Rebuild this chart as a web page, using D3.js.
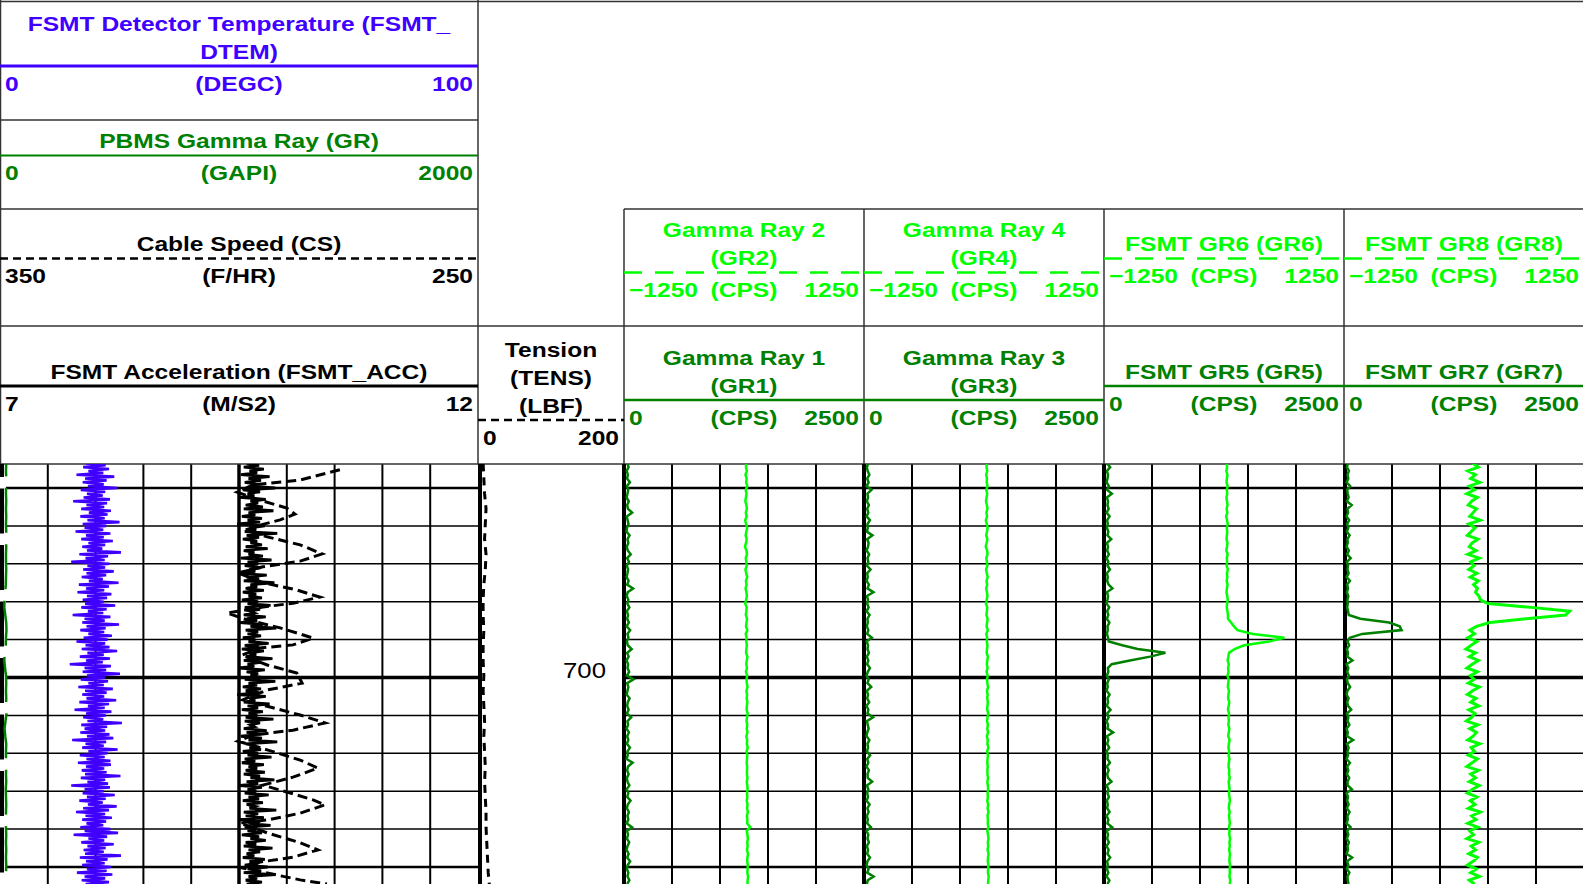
<!DOCTYPE html>
<html>
<head>
<meta charset="utf-8">
<script src="https://cdn.jsdelivr.net/npm/d3@7"></script>
<style>
    body { margin: 0; background: #fff; overflow: hidden; }
    svg { display: block; }
    text { font-family: "Liberation Sans", Arial, sans-serif; }
    .hdr text { font-size: 21px; font-weight: bold; }
</style>
</head>
<body>
<div id="logplot"></div>
<script>

const depthTop = 643.5;      // depth of the first sample of every sampled series (ft)
const depthLabels = [700];

// FSMT detector temperature (DEGC), every 0.5 ft
const dtemStep = 0.5;
const dtem = [
    18.0,22.1,17.4,22.8,18.5,21.6,16.0,23.9,17.8,22.3, 17.3,21.7,18.4,24.6,16.9,22.0,18.2,21.5,17.5,23.0,
    15.3,22.4,18.1,21.8,17.0,23.2,18.6,22.5,16.8,21.9, 18.3,25.0,17.3,22.2,17.7,21.6,15.8,23.1,18.0,21.7,
    17.0,23.6,18.5,22.0,17.2,21.4,18.2,25.3,16.6,22.6, 17.9,21.9,14.9,22.9,18.3,22.0,17.4,23.8,18.1,22.2,
    17.1,21.5,18.6,24.8,16.5,22.8,18.0,21.8,16.2,23.3, 18.2,22.4,17.3,21.7,17.8,24.1,17.0,22.3,18.4,21.6,
    15.2,23.1,17.7,21.9,17.2,24.9,18.1,22.1,16.8,21.8, 18.5,23.4,17.5,22.5,16.0,22.0,17.9,22.9,17.1,24.5,
    18.3,21.7,16.7,23.0,18.0,21.5,14.6,23.2,17.7,22.2, 17.3,25.1,18.2,22.0,16.9,22.6,18.5,21.7,16.4,23.6,
    17.8,22.3,17.2,21.8,18.1,24.3,16.6,22.8,18.4,21.9, 15.6,23.3,18.0,22.1,17.4,21.6,18.3,25.5,17.0,22.4,
    17.7,22.0,16.8,22.9,18.2,23.7,15.1,22.2,17.9,21.7, 17.2,24.6,18.5,22.5,16.7,21.9,18.1,23.1,16.3,23.2,
    18.0,21.8,17.1,22.3,17.8,25.2,16.9,22.0,18.3,22.6, 14.9,23.0,17.7,21.7,17.3,24.0,18.2,22.1,16.6,21.5,
    18.4,24.4,17.4,22.8,15.9,22.0,17.9,23.4,17.2,22.2, 18.1,21.6,16.8,23.1,17.7,24.7,15.4,22.4,18.5,21.8,
    17.0,23.8,18.3,22.1,17.5,21.7,17.8,25.3,16.7,22.5, 18.0,21.9,17.2,23.2,18.2,22.3,16.1,23.5,17.7,22.0,
    17.1,22.8,17.9
];

// FSMT acceleration (M/S2), every 0.5 ft
const accStep = 0.5;
const acc = [
    9.58,9.71,9.55,9.76,9.61,9.69,9.52,9.82,9.60,9.73, 9.56,9.68,9.63,9.88,9.54,9.72,9.59,9.66,9.50,9.78,
    9.62,9.70,9.57,9.75,9.55,9.86,9.60,9.67,9.53,9.74, 9.59,9.72,9.48,9.77,9.61,9.68,9.56,9.90,9.58,9.71,
    9.54,9.69,9.62,9.74,9.57,9.80,9.55,9.66,9.60,9.75, 9.52,9.84,9.59,9.70,9.56,9.73,9.61,9.67,9.49,9.79,
    9.58,9.71,9.55,9.87,9.62,9.69,9.57,9.76,9.54,9.68, 9.60,9.74,9.53,9.70,9.59,9.83,9.56,9.72,9.61,9.66,
    9.55,9.78,9.58,9.69,9.51,9.75,9.62,9.89,9.57,9.70, 9.59,9.73,9.54,9.67,9.60,9.81,9.56,9.71,9.53,9.76,
    9.61,9.68,9.57,9.85,9.55,9.72,9.59,9.66,9.50,9.77, 9.58,9.70,9.62,9.74,9.56,9.88,9.60,9.69,9.54,9.73,
    9.57,9.71,9.48,9.78,9.61,9.67,9.55,9.82,9.59,9.70, 9.53,9.75,9.60,9.69,9.57,9.86,9.56,9.72,9.62,9.66,
    9.55,9.79,9.58,9.71,9.52,9.74,9.60,9.90,9.57,9.68, 9.61,9.73,9.54,9.70,9.59,9.84,9.56,9.67,9.53,9.76,
    9.60,9.69,9.57,9.77,9.55,9.72,9.62,9.87,9.58,9.70, 9.51,9.74,9.59,9.68,9.56,9.81,9.60,9.71,9.54,9.75,
    9.58,9.67,9.61,9.89,9.55,9.70,9.57,9.76,9.49,9.72, 9.60,9.83,9.56,9.69,9.59,9.74,9.53,9.71,9.62,9.78,
    9.57,9.68,9.55,9.85,9.60,9.72,9.58,9.66,9.54,9.77, 9.61,9.70,9.56,9.80,9.59,9.73,9.55,9.88,9.60,9.69,
    9.57,9.74,9.58
];

// PBMS gamma ray (GAPI), every 2 ft
const grStep = 2;
const pbmsGr = [
    26,25,26,25,25,26,25,26,25,26, 25,26,25,25,26,25,24,22,19,18,
    22,26,27,25,24,20,18,21,25,26, 25,26,25,27,23,19,22,26,25,25,
    26,25,26,24,25,26,25,26,25,26, 25,26,25,26,25,26
];

// tension (LBF), every 4 ft
const tensStep = 4;
const tens = [7,8,9,11,10,9,11,10,8,7, 7,8,7,7,8,7,8,9,8,9, 10,9,10,11,11,12,13,14,16];

// cable speed (F/HR) turning points
const csDepth = [
    645.2,647.9,649.2,651.1,653.2,655.3,656.9,658.4,659.8,661.1, 662.9,665.0,667.4,669.3,670.8,672.4,675.0,676.9,678.8,680.4,
    681.4,683.0,684.8,686.9,689.6,691.4,692.2,694.1,696.7,698.8, 701.5,703.3,705.9,708.0,709.9,712.0,713.9,715.2,716.8,719.1,
    721.8,723.9,726.3,728.4,730.2,732.3,733.6,735.8,737.6,738.4, 741.0,743.6,745.5,747.4,748.7,750.3,751.6,753.4,754.5
];
const csSpeed = [
    278.9,287.2,297.1,300.4,295.6,290.0,288.3,291.4,295.6,298.7, 294.1,287.2,282.6,287.2,295.0,300.2,295.0,287.9,283.1,288.7,
    295.0,302.5,298.3,291.4,284.5,288.7,295.6,299.4,294.1,287.9, 286.8,294.1,299.2,292.9,287.2,282.0,288.7,297.1,300.2,294.1,
    287.2,283.5,288.7,295.0,290.0,284.5,282.0,287.2,294.1,299.8, 294.1,287.2,283.5,288.7,295.6,299.2,294.1,287.2,281.6
];

// gamma ray channels (CPS), every 1 ft
const gammaStep = 1;
const gr1 = [
    35,48,28,40,32,62,30,44,36,27, 50,33,41,85,29,38,47,31,26,58, 36,45,29,39,70,33,52,30,42,36,
    27,48,33,95,38,29,45,35,56,30, 42,33,51,27,64,36,46,30,39,80, 33,48,27,42,36,54,30,100,33,45,
    36,27,58,39,33,48,30,75,36,42, 27,51,33,45,30,62,36,39,27,90, 42,33,48,30,36,56,27,45,33,68,
    39,30,51,36,45,27,84,33,42,30, 54,36,27,48,33,64,39,30,45,36, 56,33
];
const gr2 = [
    25,20,30,15,28,22,35,18,26,20, 14,24,30,19,27,12,22,33,25,17, 28,21,10,26,31,18,24,29,15,23,
    34,20,27,16,25,30,22,13,28,24, 19,32,26,21,35,18,27,23,30,25, 22,36,28,24,31,20,33,26,29,37,
    25,32,28,35,30,27,38,31,26,34, 29,36,24,33,30,39,27,35,31,28, 33,31,30,36,29,34,38,31,35,28,
    37,32,40,30,35,33,65,29,36,41, 34,38,31,42,36,33,40,37,35,43, 38,36
];
const gr3 = [
    44,30,38,56,33,48,27,78,36,42, 30,51,33,45,27,62,36,39,30,88, 33,48,42,27,54,36,45,30,68,33,
    39,27,51,36,98,30,42,33,48,27, 58,36,39,30,45,33,82,27,42,36, 51,30,45,33,62,39,27,48,36,75,
    30,42,33,54,27,45,36,95,30,39, 48,33,27,56,36,42,30,64,33,45, 27,51,36,39,85,30,45,33,42,27,
    58,36,48,30,39,33,72,27,45,36, 51,30,42,33,62,36,27,48,33,100, 39,30
];
const gr4 = [
    30,26,34,22,31,28,37,24,33,27, 21,30,36,25,32,19,29,38,31,23, 35,27,18,33,37,24,30,35,22,29,
    39,26,33,23,31,36,28,20,34,30, 25,38,32,27,40,24,33,29,36,31, 28,41,34,30,37,26,39,32,35,43,
    31,38,34,40,36,33,44,37,32,40, 35,42,30,39,36,45,33,41,37,34, 39,35,36,42,35,40,44,37,41,34,
    43,38,46,36,41,39,45,35,42,47, 40,44,37,48,42,39,46,43,41,49, 44,42
];
const gr5 = [
    33,64,30,42,36,27,51,33,82,30, 42,36,48,27,58,33,39,30,45,36, 75,30,42,33,51,27,45,36,62,30,
    39,33,48,88,30,42,36,27,54,33, 45,30,56,36,39,30,42,50,190,350, 640,480,270,80,40,45,30,51,33,39,
    27,58,36,42,30,68,33,48,27,42, 36,95,30,45,33,54,27,39,36,62, 30,48,33,42,78,27,45,36,51,30,
    39,33,58,27,45,36,85,30,42,33, 51,27,48,36,64,33,39,30,45,27, 56,36
];
const gr6 = [
    28,33,24,36,30,26,38,29,34,25, 31,37,27,35,22,32,39,28,34,30, 26,36,31,24,38,29,33,27,40,31,
    35,28,37,30,26,34,39,32,29,36, 41,42,73,104,140,300,630,470,210,110, 52,45,38,50,42,47,36,49,44,40,
    52,46,43,55,48,41,53,47,50,45, 56,49,44,58,51,46,54,48,57,50, 47,55,52,60,49,53,58,51,56,62,
    54,50,59,53,57,61,52,58,55,63, 57,60,54,62,58,56,64,59,61,57, 65,60
];
const gr7 = [
    42,30,51,36,45,27,64,33,39,48, 30,80,36,42,27,54,33,45,30,58, 36,39,27,51,33,70,30,42,36,48,
    27,62,33,42,30,45,36,39,33,42, 50,170,470,580,600,190,60,36,54,30, 42,36,88,27,45,33,51,30,39,64,
    36,27,48,33,42,75,30,45,36,56, 27,39,33,95,30,48,36,42,27,62, 33,45,30,54,36,39,82,27,42,33,
    48,30,58,36,39,27,68,33,45,30, 51,36,42,27,85,33,45,30,56,36, 39,48
];
const gr8 = [
    90,150,40,120,70,165,55,110,30,140, 80,45,130,95,60,170,50,115,75,35, 145,85,55,125,40,160,70,105,50,135,
    65,150,100,140,120,155,170,250,700,1100, 1060,650,270,130,60,110,40,135,75,20, 120,55,150,85,30,140,65,105,45,160,
    90,35,125,70,155,50,115,80,25,145, 60,130,95,40,165,75,110,45,140,85, 30,150,70,120,55,160,90,35,135,65,
    115,45,170,80,125,40,145,60,100,30, 155,75,120,50,140,95,35,130,70,160, 55,110
];


class LogVis {

    constructor(parentElement) {
        this.parentElement = parentElement;

        this.initVis()
    }

    initVis() {
        let vis = this

        vis.width = 1583;
        vis.height = 884;
        vis.dataTop = 464;
        vis.stretch = 1.17;   // header lettering is drawn wide

        vis.svg = d3.select("#" + vis.parentElement).append("svg")
            .attr("width", vis.width)
            .attr("height", vis.height);

        // depth scale: 3.79 px per foot, 700 ft on y = 677.5
        vis.y = d3.scaleLinear()
            .domain([643.67, 754.49])
            .range([vis.dataTop, vis.height]);

        // track columns
        vis.main = [0, 478];
        vis.depthTrack = [478, 624];
        vis.grTracks = [[624, 864], [864, 1104], [1104, 1344], [1344, 1584]];

        vis.svg.append("clipPath").attr("id", "dataClip")
            .append("rect")
            .attr("x", 0).attr("y", vis.dataTop)
            .attr("width", vis.width).attr("height", vis.height - vis.dataTop);

        vis.wrangleData()
    }

    wrangleData() {
        let vis = this

        const sampled = (values, step) => values.map((v, i) => ({depth: depthTop + i * step, value: v}));

        const lime = "#00ff00", dark = "#008000", blue = "#4000ff";
        const g = vis.grTracks;

        vis.curves = [
            {data: sampled(dtem, dtemStep), track: vis.main, domain: [0, 100], color: blue, width: 2.6},
            {data: sampled(pbmsGr, grStep), track: vis.main, domain: [0, 2000], color: dark, width: 2.5, dash: "45,11.5", offset: 32},
            {data: csDepth.map((d, i) => ({depth: d, value: csSpeed[i]})), track: vis.main, domain: [350, 250], color: "#000", width: 3, dash: "10,5"},
            {data: sampled(acc, accStep), track: vis.main, domain: [7, 12], color: "#000", width: 2.8},
            {data: sampled(tens, tensStep), track: vis.depthTrack, domain: [0, 200], color: "#000", width: 3, dash: "8,6"},
            {data: sampled(gr1, gammaStep), track: g[0], domain: [0, 2500], color: dark, width: 2.5},
            {data: sampled(gr2, gammaStep), track: g[0], domain: [-1250, 1250], color: lime, width: 2.5},
            {data: sampled(gr3, gammaStep), track: g[1], domain: [0, 2500], color: dark, width: 2.5},
            {data: sampled(gr4, gammaStep), track: g[1], domain: [-1250, 1250], color: lime, width: 2.5},
            {data: sampled(gr5, gammaStep), track: g[2], domain: [0, 2500], color: dark, width: 2.5},
            {data: sampled(gr6, gammaStep), track: g[2], domain: [-1250, 1250], color: lime, width: 2.5},
            {data: sampled(gr7, gammaStep), track: g[3], domain: [0, 2500], color: dark, width: 2.5},
            {data: sampled(gr8, gammaStep), track: g[3], domain: [-1250, 1250], color: lime, width: 3}
        ];

        // header cells
        const m = vis.main;
        vis.headers = [
            {x0: m[0], x1: m[1], top: 2, bottom: 120, title: ["FSMT Detector Temperature (FSMT_", "DTEM)"], unit: "(DEGC)", lo: "0", hi: "100", color: blue, lw: 3},
            {x0: m[0], x1: m[1], top: 120, bottom: 209, title: ["PBMS Gamma Ray (GR)"], unit: "(GAPI)", lo: "0", hi: "2000", color: dark, lw: 2},
            {x0: m[0], x1: m[1], top: 209, bottom: 326, title: ["Cable Speed (CS)"], unit: "(F/HR)", lo: "350", hi: "250", color: "#000", lw: 2.5, dash: "8,5"},
            {x0: m[0], x1: m[1], top: 326, bottom: 464, title: ["FSMT Acceleration (FSMT_ACC)"], unit: "(M/S2)", lo: "7", hi: "12", color: "#000", lw: 3},
            {x0: 478, x1: 624, top: 326, bottom: 464, title: ["Tension", "(TENS)", "(LBF)"], unit: "", lo: "0", hi: "200", color: "#000", lw: 2.5, dash: "8,5"},
            {x0: g[0][0], x1: g[0][1], top: 209, bottom: 326, title: ["Gamma Ray 2", "(GR2)"], unit: "(CPS)", lo: "\u22121250", hi: "1250", color: lime, lw: 2.5, dash: "18,13"},
            {x0: g[1][0], x1: g[1][1], top: 209, bottom: 326, title: ["Gamma Ray 4", "(GR4)"], unit: "(CPS)", lo: "\u22121250", hi: "1250", color: lime, lw: 2.5, dash: "18,13"},
            {x0: g[2][0], x1: g[2][1], top: 209, bottom: 326, title: ["FSMT GR6 (GR6)"], unit: "(CPS)", lo: "\u22121250", hi: "1250", color: lime, lw: 2.5, dash: "18,13"},
            {x0: g[3][0], x1: g[3][1], top: 209, bottom: 326, title: ["FSMT GR8 (GR8)"], unit: "(CPS)", lo: "\u22121250", hi: "1250", color: lime, lw: 2.5, dash: "18,13"},
            {x0: g[0][0], x1: g[0][1], top: 326, bottom: 464, title: ["Gamma Ray 1", "(GR1)"], unit: "(CPS)", lo: "0", hi: "2500", color: dark, lw: 2.5},
            {x0: g[1][0], x1: g[1][1], top: 326, bottom: 464, title: ["Gamma Ray 3", "(GR3)"], unit: "(CPS)", lo: "0", hi: "2500", color: dark, lw: 2.5},
            {x0: g[2][0], x1: g[2][1], top: 326, bottom: 464, title: ["FSMT GR5 (GR5)"], unit: "(CPS)", lo: "0", hi: "2500", color: dark, lw: 2.5},
            {x0: g[3][0], x1: g[3][1], top: 326, bottom: 464, title: ["FSMT GR7 (GR7)"], unit: "(CPS)", lo: "0", hi: "2500", color: dark, lw: 2.5}
        ];

        vis.updateVis()
    }

    updateVis() {
        let vis = this

        vis.drawGrid();
        vis.drawFrame();
        vis.headers.forEach(h => vis.drawHeader(h));
        vis.drawCurves();
    }

    drawGrid() {
        let vis = this
        const grid = vis.svg.append("g").attr("class", "grid");
        const y0 = vis.dataTop, y1 = vis.height;

        // horizontal depth lines: every 10 ft, heavier on 50 and 100
        const depths = d3.range(650, 760, 10).filter(d => d <= vis.y.domain()[1]);
        const weight = d => d % 100 === 0 ? 3.5 : (d % 50 === 0 ? 2.5 : 1.5);
        [[vis.main[0] + 6, vis.main[1]], [vis.grTracks[0][0], vis.width]].forEach(span => {
            grid.selectAll(null).data(depths).enter().append("line")
                .attr("x1", span[0]).attr("x2", span[1])
                .attr("y1", d => vis.y(d)).attr("y2", d => vis.y(d))
                .attr("stroke", "#000").attr("stroke-width", weight);
        });

        // vertical lines of the left track (10 divisions, centre line heavy)
        const xm = d3.scaleLinear().domain([0, 10]).range(vis.main);
        grid.selectAll(null).data(d3.range(1, 10)).enter().append("line")
            .attr("x1", d => xm(d)).attr("x2", d => xm(d))
            .attr("y1", y0).attr("y2", y1)
            .attr("stroke", "#000").attr("stroke-width", d => d === 5 ? 3.5 : 2);

        // vertical lines of the gamma ray tracks (5 divisions)
        vis.grTracks.forEach(t => {
            const xg = d3.scaleLinear().domain([0, 5]).range(t);
            grid.selectAll(null).data(d3.range(1, 5)).enter().append("line")
                .attr("x1", d => xg(d)).attr("x2", d => xg(d))
                .attr("y1", y0).attr("y2", y1)
                .attr("stroke", "#000").attr("stroke-width", 2);
        });

        // depth labels
        grid.selectAll(null).data(depthLabels).enter().append("text")
            .attr("transform", d => `translate(606,${vis.y(d) + 0.5}) scale(1.12,1)`)
            .attr("text-anchor", "end")
            .style("font-size", "23px")
            .attr("fill", "#000")
            .text(d => d);
    }

    drawFrame() {
        let vis = this
        const f = vis.svg.append("g").attr("class", "frame")
            .attr("stroke", "#333").attr("stroke-width", 1.5);
        const hl = (x1, x2, y) => f.append("line").attr("x1", x1).attr("x2", x2).attr("y1", y).attr("y2", y);
        const vl = (x, y1, y2) => f.append("line").attr("x1", x).attr("x2", x).attr("y1", y1).attr("y2", y2);

        hl(0, vis.width, 1.5);
        hl(0, 478, 120);
        hl(0, 478, 209);
        hl(624, vis.width, 209);
        hl(0, vis.width, 326);
        hl(0, vis.width, vis.dataTop);
        vl(0.5, 0, vis.dataTop);
        vl(478, 0, vis.dataTop);
        vis.grTracks.forEach(t => vl(t[0], 209, vis.dataTop));

        // heavy track borders in the data area
        const b = vis.svg.append("g").attr("class", "borders").attr("stroke", "#000");
        [480, 624, 864, 1104, 1345].forEach(x => {
            b.append("line").attr("x1", x).attr("x2", x)
                .attr("y1", vis.dataTop).attr("y2", vis.height)
                .attr("stroke-width", 4);
        });
        b.append("line").attr("x1", 2).attr("x2", 2)
            .attr("y1", vis.dataTop).attr("y2", vis.height)
            .attr("stroke-width", 4)
            .attr("stroke-dasharray", "45,11.5").attr("stroke-dashoffset", 32);
    }

    drawHeader(h) {
        let vis = this
        const n = h.title.length;
        const lineY = h.top + (h.bottom - h.top) / 2 - 9 + 14 * (n - 1) + (n > 2 ? 6 : 0);
        const cx = (h.x0 + h.x1) / 2;
        const g = vis.svg.append("g").attr("class", "hdr").attr("fill", h.color);
        const label = (x, y, anchor, t) => g.append("text")
            .attr("transform", `translate(${x},${y}) scale(${vis.stretch},1)`)
            .attr("text-anchor", anchor)
            .text(t);

        h.title.forEach((t, i) => label(cx, lineY - 7.5 - 28 * (n - 1 - i), "middle", t));

        g.append("line")
            .attr("x1", h.x0).attr("x2", h.x1)
            .attr("y1", lineY).attr("y2", lineY)
            .attr("stroke", h.color).attr("stroke-width", h.lw)
            .attr("stroke-dasharray", h.dash || null);

        const sy = lineY + 24.5;
        label(h.x0 + 5, sy, "start", h.lo);
        label(cx, sy, "middle", h.unit);
        label(h.x1 - 5, sy, "end", h.hi);
    }

    drawCurves() {
        let vis = this
        const layer = vis.svg.append("g").attr("class", "curves").attr("clip-path", "url(#dataClip)");

        vis.curves.forEach(c => {
            const x = d3.scaleLinear().domain(c.domain).range(c.track);
            const line = d3.line()
                .x(d => x(d.value))
                .y(d => vis.y(d.depth));

            layer.append("path")
                .datum(c.data)
                .attr("d", line)
                .attr("fill", "none")
                .attr("stroke", c.color)
                .attr("stroke-width", c.width)
                .attr("stroke-dasharray", c.dash || null)
                .attr("stroke-dashoffset", c.offset || 0);
        });
    }

}

new LogVis("logplot");

</script>
</body>
</html>
